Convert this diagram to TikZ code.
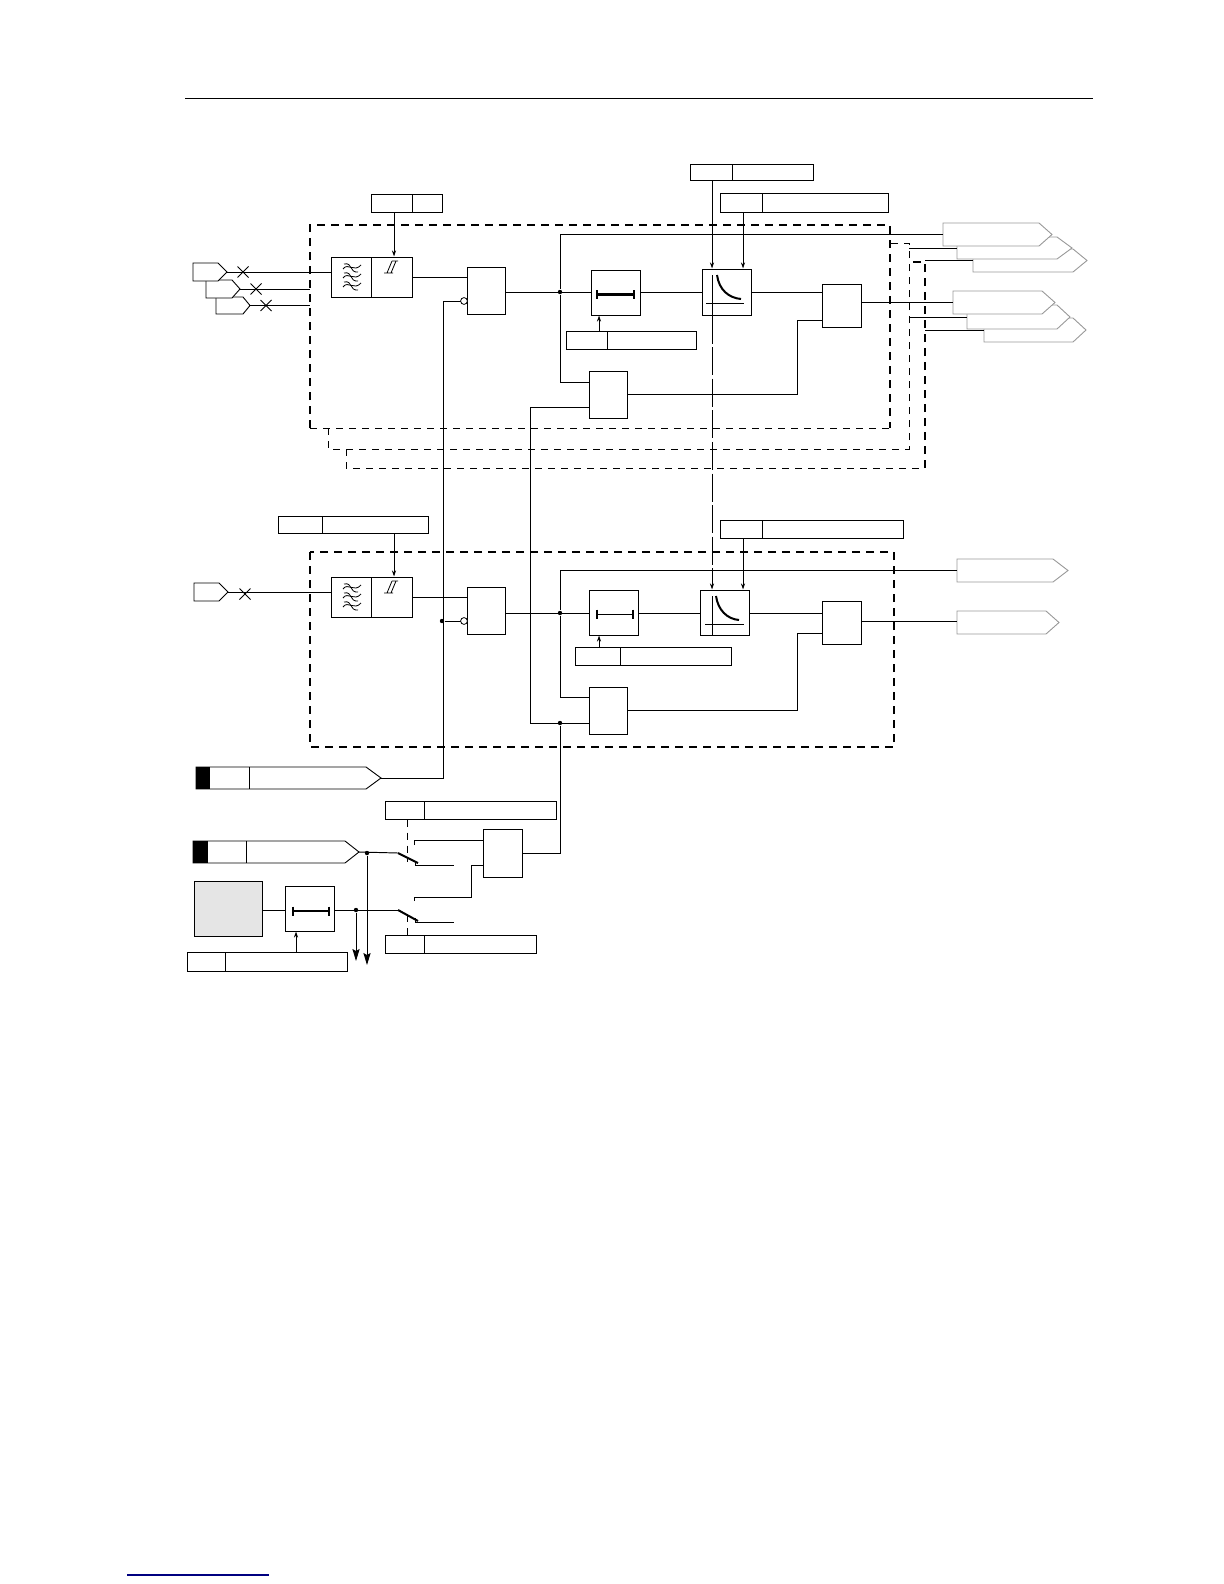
\documentclass[tikz,border=0pt]{standalone}
\usepackage{xcolor}
\usepackage{tikz}
\usetikzlibrary{arrows.meta, positioning, calc, fit}

\definecolor{linkblue}{HTML}{000080}
\definecolor{tagline}{HTML}{999999}
\definecolor{srcgray}{HTML}{E5E5E5}

\tikzset{
    wire/.style={line width=0.48pt},
    blk/.style={draw, line width=0.5pt, inner sep=0pt, fill=white},
    dot/.style={circle, fill=black, inner sep=0pt, minimum size=2.2pt},
    inv/.style={circle, draw, fill=white, inner sep=0pt, minimum size=3.4pt, line width=0.4pt},
    tip/.style={-{Stealth[length=3pt,width=2pt]}},
    bigtip/.style={-{Stealth[length=6pt,width=3.6pt,inset=1pt]}},
    thickdash/.style={line width=0.95pt, dash pattern=on 4pt off 3pt},
    thindash/.style={line width=0.42pt, dash pattern=on 3.5pt off 3pt},
    longdash/.style={line width=0.42pt, dash pattern=on 14pt off 1.8pt},
    outtag/.style={draw=tagline, line width=0.45pt, fill=white},
    intag/.style={draw, line width=0.45pt, fill=white},
}

% box given by its corners
\newcommand{\blk}[5]{\node[blk, fit={(#2,#3) (#4,#5)}] (#1) {};}
% box with a divider
\newcommand{\parm}[6]{\blk{#1}{#2}{#3}{#5}{#6}\draw[wire] (#4,#3) -- (#4,#6);}
% pointed tag: style, name, x left, y top, x shoulder, x tip, y bottom
\newcommand{\sigtag}[7]{
    \draw[#1] (#3,#4) -- (#5,#4) -- (#6,{(#4+#7)/2}) -- (#5,#7) -- (#3,#7) -- cycle;
    \coordinate (#2) at (#6,{(#4+#7)/2});
    \coordinate (#2l) at (#3,{(#4+#7)/2});
}
\newcommand{\crossat}[2]{\draw[line width=0.5pt] (#1-5.5,#2-5.5) -- (#1+5.5,#2+5.5) (#1-5.5,#2+5.5) -- (#1+5.5,#2-5.5);}
% low pass and threshold marks, y offset as argument
\newcommand{\filtmark}[1]{
    \foreach \ry in {268,277,286} {
        \draw[line width=0.4pt] (343,\ry+#1+1) .. controls (348,\ry+#1-6) and (354,\ry+#1+5) .. (361,\ry+#1-3);
        \draw[line width=0.4pt] (344,\ry+#1-4) .. controls (353,\ry+#1-6) and (349,\ry+#1+5) .. (358,\ry+#1+4);
    }
    \draw[line width=0.4pt] (384,273+#1) -- (393,273+#1) (392,261+#1) -- (398,261+#1) (387,273+#1) -- (392,261+#1) (391,273+#1) -- (396,261+#1);
}

\begin{document}
\begin{tikzpicture}[x=0.5pt, y=-0.5pt]
    \useasboundingbox (0,0) rectangle (1224,1584);

    % Page rule and link
    \draw[line width=0.5pt] (185,99) -- (1093,99);
    \draw[linkblue, line width=0.6pt] (127,1575) -- (269,1575);

    % Dashed frames, upper group
    \draw[thickdash] (310,428) -- (310,225) -- (890,225) -- (890,428);
    \draw[thindash] (310,428) -- (890,428);
    \draw[thindash] (328,428) -- (328,449) -- (909,449) -- (909,243) -- (890,243);
    \draw[thindash] (346,449) -- (346,468) -- (925,468);
    \draw[thickdash] (925,468) -- (925,262) -- (909,262);

    % Dashed frame, lower group
    \draw[thickdash] (310,552) rectangle (894,747);

    % Upper input tags
    \sigtag{intag}{in3}{216}{297}{243}{250}{314}
    \sigtag{intag}{in2}{206}{280}{232}{240}{298}
    \sigtag{intag}{in1}{193}{263}{218}{227}{281}
    \crossat{243}{272}
    \crossat{256}{289}
    \crossat{266}{305.5}

    % Output tags, upper group
    \sigtag{outtag}{ot3}{973}{249}{1073}{1087}{272}
    \sigtag{outtag}{ot2}{957}{237}{1057}{1072}{259}
    \sigtag{outtag}{ot1}{943}{223}{1039}{1052}{246}
    \sigtag{outtag}{ot6}{984}{318}{1073}{1086}{342}
    \sigtag{outtag}{ot5}{967}{305}{1057}{1070}{329}
    \sigtag{outtag}{ot4}{953}{291}{1042}{1055}{314}

    % Output tags, lower group
    \sigtag{outtag}{ot7}{957}{559}{1053}{1068}{582}
    \sigtag{outtag}{ot8}{957}{611}{1046}{1059}{634}

    % Upper group blocks
    \parm{pfil}{371}{194}{412}{442}{212}
    \parm{filt}{331}{257}{371}{412}{297}
    \blk{and1}{467}{267}{505}{314}
    \blk{tim1}{591}{270}{640}{315}
    \blk{cur1}{702}{269}{751}{315}
    \blk{and2}{822}{284}{861}{327}
    \blk{and3}{589}{371}{627}{418}
    \parm{ptm1}{566}{331}{607}{696}{349}
    \parm{pcv1}{690}{164}{732}{813}{180}
    \parm{pcv2}{720}{193}{762}{888}{212}
    \filtmark{0}

    % Lower group blocks
    \parm{pfil2}{278}{516}{322}{428}{533}
    \parm{filt2}{331}{577}{371}{412}{617}
    \blk{and4}{467}{587}{505}{634}
    \blk{tim2}{589}{590}{638}{635}
    \blk{cur2}{700}{590}{749}{635}
    \blk{and5}{822}{601}{861}{644}
    \blk{and6}{589}{687}{627}{734}
    \parm{ptm2}{575}{647}{620}{731}{665}
    \parm{pcv3}{720}{520}{762}{903}{538}
    \filtmark{320}
    \sigtag{intag}{in4}{194}{583}{219}{228}{601}
    \crossat{245}{594}

    % Timer bars
    \draw[line width=1.2pt] (597,294.5) -- (634,294.5);
    \draw[line width=1.2pt] (597,290) -- (597,299) (634,290) -- (634,299);
    \draw[line width=0.5pt] (597,614) -- (633,614);
    \draw[line width=1.1pt] (597,609.5) -- (597,618.5) (633,609.5) -- (633,618.5);

    % Curve marks
    \draw[line width=0.45pt] (712,275) -- (712,315) (706,303) -- (744,303);
    \draw[line width=1pt] (717,275) .. controls (719,290) and (729,298) .. (741,299);
    \draw[line width=0.45pt] (712,596) -- (712,635) (705,624) -- (744,624);
    \draw[line width=1pt] (716,596) .. controls (718,610) and (727,619) .. (739,620);

    % Junctions
    \node[dot] (j1) at (560,292) {};
    \node[dot] (j2) at (560,613) {};
    \node[dot] (j3) at (560,723) {};
    \node[dot] (j4) at (442,621) {};
    \node[dot] (j5) at (367,853) {};
    \node[dot] (j6) at (356,910) {};

    % Wires, upper group
    \draw[wire] (in1) -- (filt.west |- in1);
    \draw[wire] (in2) -- (310,289);
    \draw[wire] (in3) -- (310,305.5);
    \draw[wire] (filt.east |- 0,277) -- (and1.west |- 0,277);
    \draw[wire] (and1.east |- j1) -- (tim1.west |- j1);
    \draw[wire] (tim1.east |- j1) -- (cur1.west |- j1);
    \draw[wire] (cur1.east |- j1) -- (and2.west |- j1);
    \draw[wire] (and2.east |- ot4l) -- (ot4l);
    \draw[wire] (ot1l) -| (j1) |- (and3.west |- 0,382);
    \draw[wire] (and3.east |- 0,394) -| (797,320) -- (and2.west |- 0,320);
    \draw[wire] (909,0 |- ot2l) -- (ot2l);
    \draw[wire] (925,0 |- ot3l) -- (ot3l);
    \draw[wire] (909,0 |- ot5l) -- (ot5l);
    \draw[wire] (925,0 |- ot6l) -- (ot6l);
    \draw[wire, tip] (pfil.south -| 394,0) -- (filt.north -| 394,0);
    \draw[wire, tip] (ptm1.north -| 599,0) -- (tim1.south -| 599,0);
    \draw[wire, tip] (pcv1.south -| 712,0) -- (cur1.north -| 712,0);
    \draw[wire, tip] (pcv2.south -| 743,0) -- (cur1.north -| 743,0);

    % Wires, lower group
    \draw[wire] (in4) -- (filt2.west |- in4);
    \draw[wire] (filt2.east |- 0,597) -- (and4.west |- 0,597);
    \draw[wire] (and4.east |- j2) -- (tim2.west |- j2);
    \draw[wire] (tim2.east |- j2) -- (cur2.west |- j2);
    \draw[wire] (cur2.east |- j2) -- (and5.west |- j2);
    \draw[wire] (and5.east |- 0,621) -- (957,621);
    \draw[wire] (ot7l) -| (j2) |- (and6.west |- 0,697);
    \draw[wire] (and6.east |- 0,710) -| (797,633) -- (and5.west |- 0,633);
    \draw[wire, tip] (pfil2.south -| 394,0) -- (filt2.north -| 394,0);
    \draw[wire, tip] (ptm2.north -| 599,0) -- (tim2.south -| 599,0);
    \draw[wire, tip] (pcv3.south -| 743,0) -- (cur2.north -| 743,0);

    % Link between the two curve blocks
    \draw[longdash, tip] (cur1.south -| 712,0) -- (cur2.north -| 712,0);

    % Blocking bus and lower tags
    \sigtag{intag}{tga}{196}{767}{366}{381}{789}
    \sigtag{intag}{tgc}{193}{841}{345}{359}{863}
    \fill (196,767) rectangle (210,789);
    \fill (193,841) rectangle (208,863);
    \draw[wire] (249,767) -- (249,789);
    \draw[wire] (246,841) -- (246,863);
    \draw[wire] (tga) -| (443,301) -- (464,301);
    \draw[wire] (j4) -- (464,621);
    \node[inv] (inv1) at (464,301) {};
    \node[inv] (inv2) at (464,621) {};

    % Second bus
    \draw[wire] (and3.west |- 0,407) -| (530,723) -- (and6.west |- 0,723);

    % Source and timer at the bottom
    \node[blk, fill=srcgray, fit={(194,881) (262,936)}] (src) {};
    \blk{tim3}{285}{886}{334}{931}
    \draw[line width=1.2pt] (293,911) -- (329,911) (293,906.5) -- (293,915.5) (329,906.5) -- (329,915.5);
    \parm{ptm3}{187}{952}{225}{347}{971}
    \parm{psw1}{385}{801}{424}{556}{819}
    \parm{psw2}{385}{935}{424}{536}{953}
    \blk{and7}{483}{829}{522}{877}
    \draw[wire, tip] (ptm3.north -| 296,0) -- (tim3.south -| 296,0);
    \draw[wire] (src.east |- 0,910) -- (tim3.west |- 0,910);

    % Switches
    \coordinate (swa) at (398,853);
    \coordinate (swb) at (418,863);
    \coordinate (swc) at (398,910);
    \coordinate (swd) at (418,921);
    \draw[wire] (tgc) -- (swa);
    \draw[wire] (tim3.east |- swc) -- (swc);
    \draw[line width=1pt] (swa) -- (swb);
    \draw[line width=1pt] (swc) -- (swd);
    \draw[thindash] (psw1.south -| 407,0) -- (407,862);
    \draw[thindash] (407,915) -- (psw2.north -| 407,0);

    % Switch contacts
    \draw[wire] (414,845) -- (414,840) -- (and7.west |- 0,840);
    \draw[wire] (415,861) -- (415,865) -- (454,865);
    \draw[wire] (414,901) -- (414,897) -- (471,897) -- (471,865) -- (and7.west |- 0,865);
    \draw[wire] (415,918) -- (415,922) -- (454,922);

    % Outgoing wires
    \draw[wire] (and7.east |- swa) -| (j3);
    \draw[wire, bigtip] (j5) -- (367,965);
    \draw[wire, bigtip] (j6) -- (356,961);
\end{tikzpicture}
\end{document}
